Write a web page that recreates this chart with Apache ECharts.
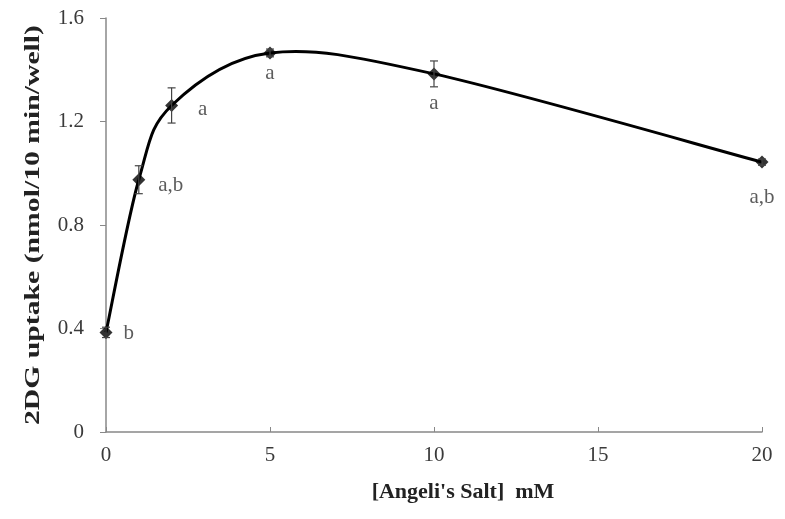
<!DOCTYPE html>
<html>
<head>
<meta charset="utf-8">
<script src="https://cdn.jsdelivr.net/npm/echarts@6/dist/echarts.min.js"></script>
<style>
  html, body { margin: 0; padding: 0; background: #fff; }
  #chart { width: 785px; height: 519px; }
</style>
</head>
<body>
<div id="chart"></div>
<script>
// concentrations (mM) and 2DG uptake
var doses = [0, 1, 2, 5, 10, 20];
var uptake = [0.385, 0.975, 1.262, 1.465, 1.384, 1.043];
var errs = [0.02, 0.054, 0.068, 0.015, 0.05, 0.012];
var sigLabels = ['b', 'a,b', 'a', 'a', 'a', 'a,b'];
var xTicks = [0, 5, 10, 15, 20];
var yTicks = [0, 0.4, 0.8, 1.2, 1.6];
var yTitle = '2DG uptake (nmol/10 min/well)';
var xTitle = "[Angeli's Salt]  mM";

var chart = echarts.init(document.getElementById('chart'));

var serif = 'Liberation Serif';
var textCol = '#3a3a3a';

// where each letter sits relative to its point
var labelPos = [
  { position: 'right', offset: [6, 1] },
  { position: 'right', offset: [8, 6] },
  { position: 'right', offset: [15, 4] },
  { position: 'bottom', offset: [0, -1] },
  { position: 'bottom', offset: [0, 8] },
  { position: 'bottom', offset: [0, 13] }
];

var pointData = doses.map(function (d, i) {
  return {
    value: [d, uptake[i]],
    label: {
      show: true,
      formatter: sigLabels[i],
      position: labelPos[i].position,
      offset: labelPos[i].offset,
      fontFamily: serif,
      fontSize: 21,
      color: '#333'
    }
  };
});

var errData = doses.map(function (d, i) {
  return [d, uptake[i] - errs[i], uptake[i] + errs[i]];
});

// one segment per point pair, smoothed like a spreadsheet curve
var segData = doses.slice(0, -1).map(function (d, i) { return [d, uptake[i], i]; });

function px(api, k) {
  k = Math.max(0, Math.min(doses.length - 1, k));
  return api.coord([doses[k], uptake[k]]);
}

// the y title in the picture is drawn stretched along its length
var ctx = document.createElement('canvas').getContext('2d');
ctx.font = 'bold 21px "' + serif + '"';
var yTitleStretch = 400 / ctx.measureText(yTitle).width;

var option = {
  animation: false,
  grid: { left: 106, right: 23, top: 18, bottom: 87 },
  graphic: [{
    type: 'text',
    x: 34, y: 225,
    rotation: Math.PI / 2,
    scaleX: yTitleStretch,
    style: {
      text: yTitle,
      fontFamily: serif, fontWeight: 'bold', fontSize: 21,
      fill: '#222', align: 'center', verticalAlign: 'middle'
    }
  }],
  xAxis: {
    type: 'value',
    min: 0, max: 20, interval: 5,
    name: xTitle,
    nameLocation: 'middle',
    nameGap: 49,
    nameTextStyle: {
      fontFamily: serif, fontWeight: 'bold', fontSize: 22, color: '#222',
      padding: [0, 0, 0, 58]
    },
    axisLine: { lineStyle: { color: '#888', width: 1.5 } },
    axisTick: { show: true, inside: true, length: 5, lineStyle: { color: '#888' } },
    axisLabel: {
      margin: 13, fontFamily: serif, fontSize: 21, color: textCol,
      formatter: function (v) { return xTicks.indexOf(v) >= 0 ? String(v) : ''; }
    },
    splitLine: { show: false }
  },
  yAxis: {
    type: 'value',
    min: 0, max: 1.6, interval: 0.4,
    axisLine: { show: true, lineStyle: { color: '#888', width: 1.5 } },
    axisTick: { show: true, length: 6, lineStyle: { color: '#888' } },
    axisLabel: {
      margin: 22, fontFamily: serif, fontSize: 21, color: textCol,
      formatter: function (v) {
        var t = yTicks.filter(function (y) { return Math.abs(y - v) < 1e-6; });
        return t.length ? (t[0] === 0 ? '0' : t[0].toFixed(1)) : '';
      }
    },
    splitLine: { show: false }
  },
  series: [
    {
      type: 'custom',
      data: segData,
      z: 2,
      renderItem: function (params, api) {
        var i = api.value(2);
        var p0 = px(api, i - 1), p1 = px(api, i), p2 = px(api, i + 1), p3 = px(api, i + 2);
        return {
          type: 'bezierCurve',
          shape: {
            x1: p1[0], y1: p1[1],
            x2: p2[0], y2: p2[1],
            cpx1: p1[0] + (p2[0] - p0[0]) / 6, cpy1: p1[1] + (p2[1] - p0[1]) / 6,
            cpx2: p2[0] - (p3[0] - p1[0]) / 6, cpy2: p2[1] - (p3[1] - p1[1]) / 6
          },
          style: { stroke: '#000', lineWidth: 3, fill: null }
        };
      }
    },
    {
      type: 'scatter',
      data: pointData,
      symbol: 'diamond',
      symbolSize: 13,
      itemStyle: { color: '#000' },
      z: 3
    },
    {
      type: 'custom',
      data: errData,
      z: 4,
      renderItem: function (params, api) {
        var x = api.value(0);
        var lo = api.coord([x, api.value(1)]);
        var hi = api.coord([x, api.value(2)]);
        var w = 4;
        var st = { stroke: '#444', lineWidth: 1.2 };
        return {
          type: 'group',
          children: [
            { type: 'line', shape: { x1: lo[0], y1: lo[1], x2: hi[0], y2: hi[1] }, style: st },
            { type: 'line', shape: { x1: lo[0] - w, y1: lo[1], x2: lo[0] + w, y2: lo[1] }, style: st },
            { type: 'line', shape: { x1: hi[0] - w, y1: hi[1], x2: hi[0] + w, y2: hi[1] }, style: st }
          ]
        };
      }
    }
  ]
};

chart.setOption(option);
</script>
</body>
</html>
